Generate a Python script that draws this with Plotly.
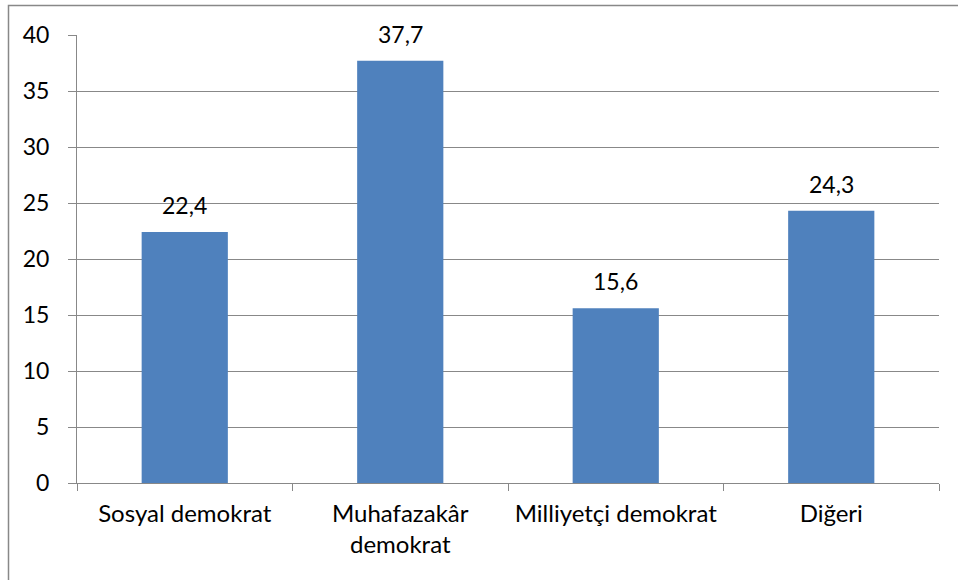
import plotly.graph_objects as go

categories = ["Sosyal demokrat", "Muhafazakâr<br>demokrat", "Milliyetçi demokrat", "Diğeri"]
values = [22.4, 37.7, 15.6, 24.3]
y_ticks = [0, 5, 10, 15, 20, 25, 30, 35, 40]

W, H = 958, 580
ML, MR, MT, MB = 77, 19, 35, 97
pw = W - ML - MR
ph = H - MT - MB

GRID = "#888888"
FONT = "Lato"
FS = 23

fig = go.Figure(go.Bar(
    x=categories,
    y=values,
    marker=dict(color="#4F81BD", line=dict(width=0)),
    width=0.4,
))

for cat, val in zip(categories, values):
    fig.add_annotation(
        x=cat, y=val, text=f"{val:.1f}".replace(".", ","),
        showarrow=False, yshift=27,
        font=dict(family=FONT, size=FS, color="black"),
    )

# outer chart border (right and bottom edges fall outside the picture)
fig.add_shape(
    type="rect", xref="paper", yref="paper",
    x0=(8.5 - ML) / pw, x1=(W + 10 - ML) / pw,
    y0=-(H + 10 - MT - ph) / ph, y1=1 + (MT - 5.5) / ph,
    line=dict(color="#888888", width=1.5),
)

fig.update_layout(
    width=W, height=H,
    margin=dict(l=ML, r=MR, t=MT, b=MB),
    plot_bgcolor="white", paper_bgcolor="white",
    showlegend=False,
    font=dict(family=FONT, size=FS, color="black"),
    xaxis=dict(
        showline=True, linecolor=GRID, linewidth=1,
        ticks="outside", tickson="boundaries", ticklen=7, tickcolor=GRID,
        tickfont=dict(family=FONT, size=24),
        ticklabelstandoff=9,
        showgrid=False,
    ),
    yaxis=dict(
        range=[0, 40], tickvals=y_ticks,
        showline=True, linecolor=GRID, linewidth=1,
        ticks="outside", ticklen=8, tickcolor=GRID,
        showgrid=True, gridcolor=GRID, gridwidth=1,
        zeroline=False,
        ticklabelstandoff=14,
        tickfont=dict(family=FONT, size=FS),
    ),
)

fig.write_html("out.html", config={"displayModeBar": False},
               post_script="document.body.style.margin='0';")
